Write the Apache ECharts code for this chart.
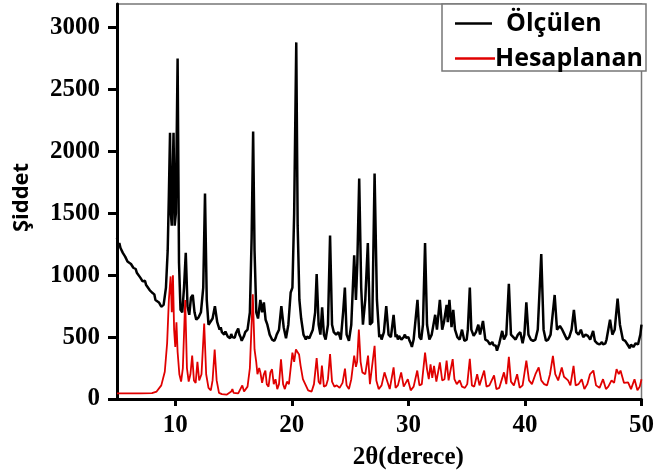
<!DOCTYPE html>
<html>
<head>
<meta charset="utf-8">
<script src="https://cdn.jsdelivr.net/npm/echarts@6/dist/echarts.min.js"></script>
<style>
  html, body { margin: 0; padding: 0; background: #fff; }
  #chart { width: 657px; height: 475px; }
</style>
</head>
<body>
<div id="chart"></div>
<script>
// Powder diffraction pattern: measured vs calculated, intensity against 2θ (degrees)
const xTicks = [10, 20, 30, 40, 50];
const yTicks = [0, 500, 1000, 1500, 2000, 2500, 3000];

// Measured pattern [2θ, intensity]
const measuredPattern = [
  [5.0,1300],[5.1,1240],[5.2,1260],[5.3,1220],[5.4,1230],[5.5,1180],[5.6,1190],[5.7,1150],
  [5.8,1160],[5.9,1110],[6.0,1120],[6.2,1090],[6.3,1100],[6.4,1060],[6.6,1050],[6.7,1020],
  [6.8,1030],[7.0,980],[7.1,995],[7.2,950],[7.4,955],[7.5,920],[7.6,930],[7.8,880],
  [7.9,895],[8.0,860],[8.2,845],[8.3,800],[8.4,815],[8.6,780],[8.7,795],[8.8,745],
  [9.0,760],[9.2,900],[9.35,1200],[9.45,1650],
  [9.55,2150],[9.62,1500],[9.7,1400],[9.78,1800],[9.85,2150],[9.95,1400],[10.05,1500],
  [10.2,2750],[10.32,1100],[10.45,720],[10.6,700],[10.75,900],[10.9,1180],[11.05,750],
  [11.2,680],[11.35,820],[11.5,840],[11.65,700],[11.8,640],[12.0,660],[12.2,700],
  [12.4,900],[12.55,1660],[12.7,800],[12.85,600],[13.0,590],[13.2,650],[13.4,750],
  [13.6,620],[13.8,560],[13.9,580],[14.0,540],[14.1,555],[14.2,520],[14.3,545],[14.4,530],
  [14.5,505],[14.6,520],[14.7,490],[14.8,525],[14.9,500],[15.0,515],[15.1,495],
  [15.2,530],[15.3,545],[15.4,570],[15.5,520],[15.6,500],[15.7,470],[15.8,490],[15.9,510],
  [16.0,540],[16.2,560],[16.4,700],
  [16.55,1300],[16.68,2160],[16.8,1200],[16.95,700],[17.1,650],[17.3,800],[17.45,700],
  [17.6,780],[17.75,640],[17.9,600],[18.0,560],[18.1,520],[18.2,500],[18.3,480],[18.4,495],
  [18.5,470],[18.6,490],[18.7,520],
  [18.9,560],[19.1,750],[19.3,580],[19.5,490],[19.7,600],[19.9,860],[20.05,900],
  [20.2,1500],[20.38,2880],[20.5,1400],[20.65,800],[20.8,650],[21.0,520],[21.1,500],[21.2,480],
  [21.3,505],[21.4,520],[21.5,490],[21.6,500],[21.8,560],[22.0,700],[22.13,1010],[22.3,600],[22.45,520],
  [22.6,740],[22.75,520],[22.9,480],[23.1,600],[23.28,1320],[23.45,600],[23.6,540],
  [23.8,520],[24.0,540],[24.2,480],[24.4,700],[24.55,900],[24.7,520],[24.9,470],
  [25.1,600],[25.35,1160],[25.5,800],[25.62,1100],[25.78,1780],[25.95,900],[26.1,600],
  [26.3,800],[26.52,1260],[26.7,600],[26.9,620],[27.1,1820],[27.3,800],[27.5,500],
  [27.6,520],[27.7,480],[27.9,540],[28.1,750],[28.3,520],[28.5,500],[28.73,680],[28.9,500],
  [29.0,520],[29.1,480],[29.2,510],[29.3,500],[29.4,480],[29.5,470],[29.6,500],[29.7,520],
  [29.8,495],[29.9,490],[30.0,500],[30.1,470],[30.2,450],[30.3,420],
  [30.45,480],[30.78,800],[30.95,500],[31.1,480],[31.25,600],[31.43,1260],[31.6,600],
  [31.8,480],[32.0,520],[32.3,680],[32.45,560],[32.7,800],[32.9,560],[33.05,620],
  [33.28,760],[33.38,620],[33.52,800],[33.7,580],[33.85,720],[34.0,560],[34.2,500],
  [34.4,480],[34.6,560],[34.8,470],[35.0,480],[35.1,560],[35.27,900],[35.4,560],
  [35.6,510],[35.8,540],[36.0,600],[36.15,520],[36.4,630],[36.6,480],[36.7,495],[36.8,470],
  [36.9,480],[37.0,440],[37.1,455],[37.2,460],[37.3,435],[37.4,420],[37.5,430],[37.6,390],
  [37.7,420],[37.8,450],[38.05,550],[38.2,480],
  [38.4,520],[38.62,930],[38.8,520],[39.0,500],[39.2,480],[39.4,520],[39.6,540],
  [39.8,450],[39.95,520],[40.12,780],[40.3,520],[40.5,480],[40.6,495],[40.7,470],[40.9,480],
  [41.1,560],[41.4,1170],[41.6,560],[41.8,470],[42.0,480],[42.2,520],[42.55,840],
  [42.75,560],[43.0,590],[43.2,560],[43.4,520],[43.6,480],[43.8,500],[44.0,560],
  [44.2,720],[44.4,540],[44.6,520],[44.8,560],[45.0,500],[45.2,520],[45.4,510],
  [45.6,480],[45.85,550],[46.0,470],[46.1,480],[46.2,450],[46.3,460],[46.4,440],[46.5,455],
  [46.6,460],[46.7,440],[46.8,430],[46.9,450],
  [47.0,480],[47.3,640],[47.5,520],[47.7,560],[47.95,810],[48.15,600],[48.4,480],
  [48.5,490],[48.6,470],[48.7,455],[48.8,440],[48.9,425],[49.0,410],[49.1,440],[49.2,450],
  [49.3,420],[49.4,430],[49.5,450],[49.6,460],[49.7,440],[49.8,480],[49.9,520],[50.0,600]
];

// Calculated pattern [2θ, intensity]
const calculatedPattern = [
  [5.0,45],[6.0,45],[7.0,45],[8.0,47],[8.4,60],[8.8,110],[9.1,220],[9.3,450],[9.45,800],
  [9.6,990],[9.7,700],[9.8,1000],[9.9,560],[10.0,420],[10.1,620],[10.2,380],[10.35,200],
  [10.5,140],[10.65,250],[10.85,800],[11.0,250],[11.15,140],[11.3,200],[11.45,350],
  [11.6,150],[11.75,130],[11.9,300],[12.05,150],[12.25,200],[12.48,610],[12.65,200],
  [12.85,90],[13.05,70],[13.2,150],[13.38,400],[13.55,150],[13.75,50],[14.0,40],
  [14.4,35],[14.8,60],[14.9,80],[15.0,50],[15.4,45],[15.75,110],[15.9,60],[16.2,100],
  [16.4,250],[16.65,845],[16.8,400],[16.95,295],[17.05,200],[17.2,250],[17.3,215],
  [17.45,130],[17.6,200],[17.73,230],[17.85,120],[18.0,100],[18.16,215],[18.3,240],
  [18.45,120],[18.6,160],[18.75,80],[18.9,120],[19.07,320],[19.25,120],[19.4,80],
  [19.58,140],[19.75,120],[19.9,250],[20.05,375],[20.2,300],[20.35,400],[20.5,415],
  [20.62,360],[20.75,270],[20.95,160],[21.15,120],[21.4,70],[21.7,60],[21.9,120],
  [22.13,330],[22.3,140],[22.45,120],[22.58,270],[22.75,100],[22.95,110],[23.1,160],
  [23.28,362],[23.45,140],[23.65,100],[23.85,110],[24.1,90],[24.35,130],[24.56,245],
  [24.7,110],[24.9,80],[25.1,160],[25.35,350],[25.5,260],[25.6,300],[25.75,560],
  [25.9,300],[26.05,215],[26.3,200],[26.54,350],[26.7,120],[26.85,110],[27.1,430],
  [27.25,150],[27.45,80],[27.7,110],[27.95,215],[28.2,140],[28.4,80],[28.73,255],
  [28.9,90],[29.1,110],[29.38,215],[29.6,100],[29.95,160],[30.2,70],[30.45,100],
  [30.76,230],[30.95,110],[31.15,120],[31.43,375],[31.6,240],[31.75,160],[31.9,280],
  [32.05,170],[32.2,268],[32.4,140],[32.7,295],[32.9,150],[33.1,160],[33.28,310],
  [33.45,150],[33.6,160],[33.8,322],[33.95,160],[34.15,120],[34.4,150],[34.6,100],
  [34.85,90],[35.05,120],[35.27,325],[35.45,110],[35.65,100],[35.9,200],[36.1,110],
  [36.5,230],[36.7,100],[36.95,110],[37.35,190],[37.55,80],[37.8,90],[38.2,215],
  [38.4,120],[38.62,340],[38.8,140],[39.05,110],[39.33,200],[39.55,90],[39.8,110],
  [40.12,310],[40.35,150],[40.6,120],[40.9,200],[41.18,255],[41.4,150],[41.65,120],
  [41.9,110],[42.15,200],[42.4,348],[42.6,200],[42.85,150],[43.16,255],[43.35,180],
  [43.7,150],[43.9,110],[44.17,268],[44.35,110],[44.6,120],[44.87,160],[45.1,80],
  [45.35,120],[45.58,200],[45.87,230],[46.1,110],[46.4,90],[46.7,160],[46.95,80],
  [47.15,100],[47.43,150],[47.65,130],[47.86,241],[48.05,200],[48.2,230],[48.5,130],
  [48.85,135],[49.1,80],[49.4,160],[49.65,70],[49.85,100],[50.0,160]
];

const seriesNames = ['Ölçülen', 'Hesaplanan'];
const seriesColors = ['#000000', '#e00000'];

const serifBold = { fontFamily: 'Liberation Serif', fontWeight: 'bold', color: '#000' };
const sansBold = { fontFamily: 'Open Sans', fontWeight: 'bold', color: '#000' };

const chart = echarts.init(document.getElementById('chart'), null, { renderer: 'canvas' });

chart.setOption({
  animation: false,
  backgroundColor: '#fff',
  grid: {
    left: 117, right: 12, top: 4, bottom: 75,
    show: true, borderColor: '#777', borderWidth: 1.5
  },
  legend: [
    {
      data: [seriesNames[0]],
      left: 450, top: 6,
      icon: 'rect', itemWidth: 37, itemHeight: 2.5,
      textStyle: Object.assign({ fontSize: 25, padding: [0, 0, 0, 9] }, sansBold)
    },
    {
      data: [seriesNames[1]],
      left: 450, top: 41,
      icon: 'rect', itemWidth: 40, itemHeight: 2.5,
      textStyle: Object.assign({ fontSize: 25, padding: [0, 0, 0, -5] }, sansBold)
    }
  ],
  graphic: [{
    type: 'rect', z: 0, silent: true,
    shape: { x: 442, y: 4, width: 204, height: 67 },
    style: { fill: '#fff', stroke: '#777', lineWidth: 1.5 }
  }],
  xAxis: {
    type: 'value', min: 5, max: 50,
    name: '2θ(derece)', nameLocation: 'middle', nameGap: 46,
    nameTextStyle: Object.assign({ fontSize: 25, padding: [0, 0, 0, 58] }, serifBold),
    axisLine: { onZero: false, lineStyle: { color: '#000', width: 3 } },
    axisTick: { customValues: xTicks, length: 7, lineStyle: { color: '#000', width: 3 } },
    axisLabel: Object.assign({
      customValues: xTicks, fontSize: 25, margin: 14,
      formatter: v => String(v)
    }, serifBold),
    splitLine: { show: false }
  },
  yAxis: {
    type: 'value', min: 0, max: 3190,
    name: 'Şiddet', nameLocation: 'middle', nameGap: 84, nameRotate: 90,
    nameTextStyle: Object.assign({ fontSize: 22, padding: [0, 0, 0, 8] }, sansBold),
    axisLine: { show: true, lineStyle: { color: '#000', width: 3 } },
    axisTick: { customValues: yTicks, length: 9, lineStyle: { color: '#000', width: 3 } },
    axisLabel: Object.assign({
      customValues: yTicks, fontSize: 25, margin: 17,
      formatter: v => String(v)
    }, serifBold),
    splitLine: { show: false }
  },
  series: [
    {
      name: seriesNames[0], type: 'line', data: measuredPattern,
      showSymbol: false, z: 3,
      lineStyle: { color: seriesColors[0], width: 2.5 },
      itemStyle: { color: seriesColors[0] }
    },
    {
      name: seriesNames[1], type: 'line', data: calculatedPattern,
      showSymbol: false, z: 4,
      lineStyle: { color: seriesColors[1], width: 1.8 },
      itemStyle: { color: seriesColors[1] }
    }
  ]
});
</script>
</body>
</html>
